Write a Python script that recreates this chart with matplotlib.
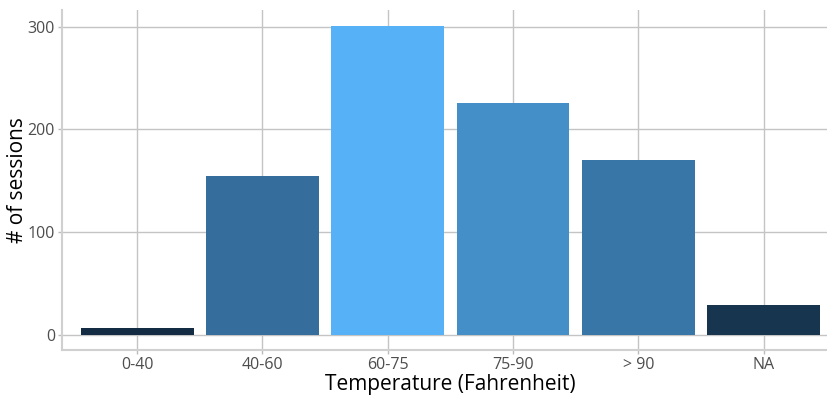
import matplotlib.pyplot as plt
from matplotlib.colors import LinearSegmentedColormap, Normalize

temp_bins = ['0-40', '40-60', '60-75', '75-90', '> 90', 'NA']
sessions = [6, 154, 301, 226, 170, 29]

plt.rcParams['font.family'] = ['Open Sans', 'DejaVu Sans']

# ggplot-style continuous fill, dark for few sessions, light for many
cmap = LinearSegmentedColormap.from_list('gg', ['#132B43', '#56B1F7'])
norm = Normalize(min(sessions), max(sessions))
colors = [cmap(norm(v)) for v in sessions]

fig = plt.figure(figsize=(8.28, 3.99), dpi=100)
ax = fig.add_axes([0.0749, 0.1228, 0.938, 0.852])

pos = list(range(1, len(temp_bins) + 1))
ax.bar(pos, sessions, width=0.9, color=colors, zorder=3)

ax.set_xlim(0.4, 6.6)
ax.set_ylim(-15.05, 316.05)
ax.set_xticks(pos)
ax.set_xticklabels(temp_bins)
ax.set_yticks([0, 100, 200, 300])

ax.grid(True, color='#C4C4C4', linewidth=1.0, zorder=0)
for side in ['top', 'right']:
    ax.spines[side].set_visible(False)
for side in ['left', 'bottom']:
    ax.spines[side].set_color('#D0D0D0')
    ax.spines[side].set_linewidth(1.5)

ax.tick_params(colors='#BBBBBB', labelcolor='#4D4D4D', labelsize=11.5,
               length=3, width=1, pad=2)

ax.set_xlabel('Temperature (Fahrenheit)', fontsize=15, color='black', labelpad=1)
ax.set_ylabel('# of sessions', fontsize=15, color='black', labelpad=0)

fig.savefig('out.png', dpi=100)
